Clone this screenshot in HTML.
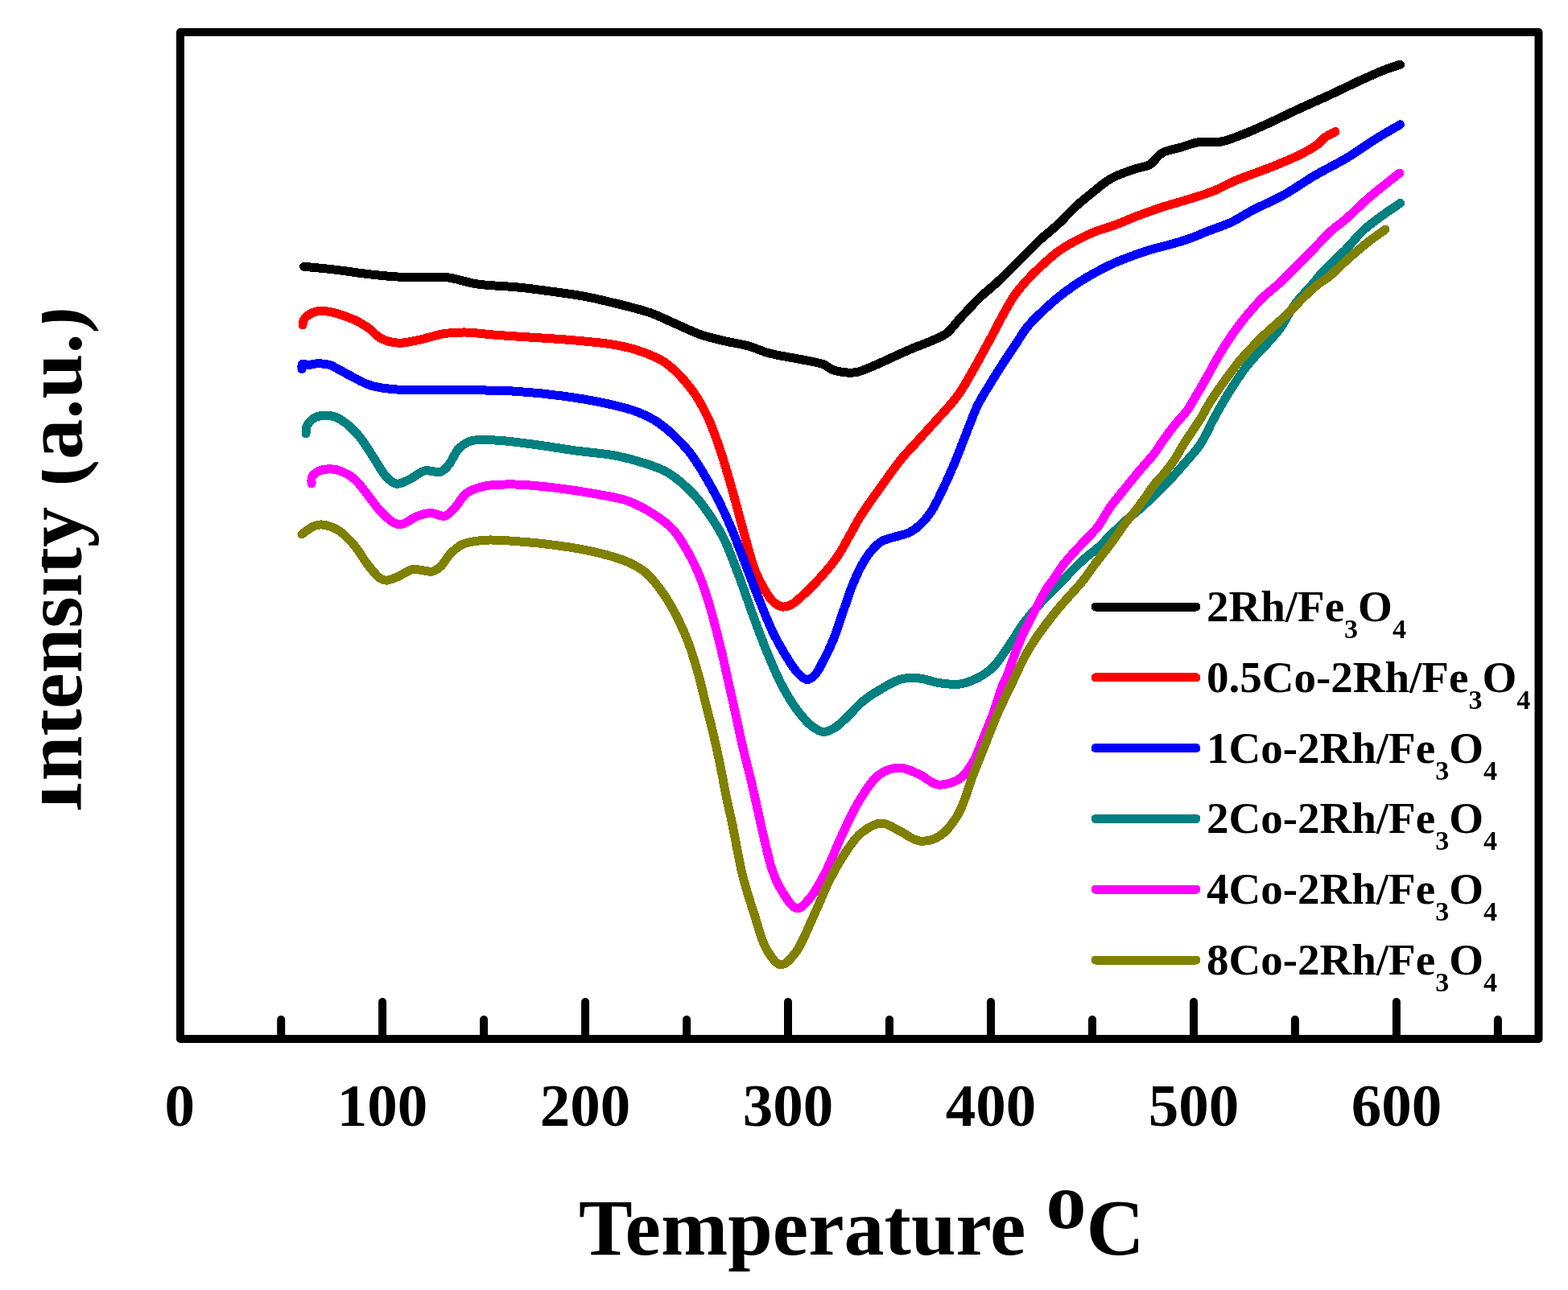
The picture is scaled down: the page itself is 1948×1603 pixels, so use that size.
<!DOCTYPE html>
<html><head><meta charset="utf-8"><style>
html,body{margin:0;padding:0;background:#fff;}
body{width:1948px;height:1603px;overflow:hidden;}
svg{display:block;}
text{font-family:"Liberation Serif",serif;font-weight:bold;fill:#000;}
</style></head><body>
<svg width="1948" height="1603" viewBox="0 0 1948 1603">
<rect x="0" y="0" width="1948" height="1603" fill="#fff"/>
<g fill="none" stroke-width="11" stroke-linecap="round" stroke-linejoin="round" shape-rendering="crispEdges">
<path d="M377.5 331.2C390.0 332.5 402.5 333.5 415.0 335.0C427.5 336.5 440.0 338.5 452.5 340.0C465.0 341.5 478.2 343.0 490.0 343.8C500.5 344.4 509.8 344.5 520.0 344.6C530.7 344.8 545.6 344.1 553.0 344.6C556.8 344.8 557.9 345.0 561.6 345.7C568.7 347.0 580.8 351.1 592.4 352.9C607.3 355.2 627.6 355.4 643.7 357.0C658.2 358.5 671.1 360.2 684.8 362.1C698.5 364.0 712.3 365.7 725.9 368.3C739.6 370.9 753.3 374.1 766.9 377.5C780.6 380.9 795.4 384.4 808.0 388.8C819.2 392.7 828.5 397.7 838.8 402.1C849.1 406.6 859.2 411.9 869.6 415.5C879.6 419.0 889.9 421.3 900.0 423.7C910.0 426.1 920.5 427.4 930.0 430.0C938.8 432.5 945.5 436.2 955.0 438.8C967.1 442.0 985.9 444.8 997.0 447.0C1004.4 448.5 1010.4 449.5 1015.4 450.7C1018.8 451.5 1021.1 451.8 1024.0 453.1C1027.3 454.6 1029.9 457.7 1033.9 459.3C1039.0 461.3 1046.8 462.6 1052.4 463.0C1056.9 463.3 1060.3 463.3 1064.7 462.4C1070.3 461.3 1076.6 458.3 1083.2 455.6C1090.9 452.5 1099.6 448.2 1107.8 444.5C1116.0 440.8 1124.2 436.9 1132.5 433.4C1140.7 429.9 1149.5 427.0 1157.1 423.6C1163.8 420.6 1169.9 418.8 1175.6 414.5C1181.8 409.8 1186.3 402.7 1192.5 396.0C1200.0 387.9 1210.5 376.3 1217.5 369.5C1222.3 364.9 1225.6 362.5 1230.0 358.6C1234.9 354.3 1239.8 350.0 1245.4 344.7C1252.4 338.0 1260.8 329.3 1268.5 321.6C1276.2 313.9 1283.8 305.8 1291.6 298.5C1299.2 291.4 1307.1 285.6 1314.7 278.5C1322.5 271.2 1330.4 262.2 1337.8 255.4C1344.2 249.6 1349.7 245.3 1356.3 240.0C1363.7 234.2 1371.3 226.9 1380.0 222.0C1388.9 216.9 1400.5 213.3 1409.3 210.2C1416.4 207.7 1424.0 207.3 1428.8 204.4C1432.3 202.3 1434.0 199.1 1436.6 196.6C1439.2 194.2 1440.8 191.7 1444.4 189.7C1449.9 186.7 1460.4 185.1 1467.8 182.9C1474.6 180.9 1480.1 178.2 1487.3 177.0C1496.0 175.6 1507.0 177.8 1516.6 176.1C1526.5 174.3 1536.1 170.0 1545.8 166.3C1555.6 162.5 1564.7 158.3 1575.1 153.6C1587.2 148.1 1601.1 141.1 1614.1 135.1C1627.1 129.1 1640.1 123.5 1653.1 117.5C1666.1 111.5 1680.0 104.5 1692.1 99.0C1702.5 94.3 1712.7 89.6 1721.4 86.3C1728.1 83.7 1733.5 82.3 1739.5 80.3" stroke="#000000"/>
<path d="M376.0 404.0C376.5 401.8 376.4 399.5 377.5 397.5C378.7 395.3 380.8 393.1 383.0 391.5C385.3 389.8 388.2 388.3 391.0 387.5C393.8 386.7 396.9 386.5 400.0 386.5C403.2 386.5 406.7 386.9 410.0 387.5C413.4 388.1 416.3 388.9 420.0 390.0C425.0 391.5 432.1 393.9 437.0 396.0C440.9 397.6 443.8 399.0 447.3 401.0C451.3 403.3 455.7 406.0 459.8 409.0C464.1 412.2 467.3 417.2 472.5 420.0C478.6 423.3 487.3 425.8 495.0 426.2C503.1 426.7 511.2 424.2 520.0 422.5C530.2 420.5 542.3 416.0 552.5 414.5C561.3 413.2 568.3 412.9 577.5 413.0C588.7 413.1 601.6 415.2 615.0 416.2C630.5 417.4 648.3 418.4 665.0 419.5C681.7 420.6 698.4 421.5 715.0 423.0C731.7 424.5 750.5 426.1 765.0 428.8C776.3 430.8 785.0 432.7 795.0 436.2C805.7 440.0 816.9 443.8 827.0 451.0C838.7 459.3 851.0 473.0 860.0 485.0C868.3 496.1 874.2 507.7 880.0 520.0C885.9 532.7 890.2 545.8 895.0 560.0C900.3 575.7 905.1 592.9 910.0 610.0C915.1 627.9 920.1 647.7 925.0 665.0C929.4 680.4 933.1 696.3 938.0 708.7C941.9 718.5 946.3 727.0 950.7 734.1C954.2 739.8 957.5 745.1 961.5 748.5C964.8 751.3 968.7 753.6 972.4 754.0C975.9 754.4 979.5 753.1 983.2 751.3C987.9 748.9 992.7 744.0 997.7 739.5C1003.5 734.2 1009.5 728.3 1015.8 721.4C1023.5 713.0 1033.4 701.7 1040.0 692.2C1045.6 684.2 1049.2 676.7 1053.7 668.8C1058.3 660.7 1062.7 651.9 1067.4 644.1C1071.8 636.8 1076.6 630.2 1081.2 623.5C1085.7 617.0 1090.3 610.7 1094.9 604.3C1099.5 597.9 1104.0 591.3 1108.6 585.1C1113.1 579.0 1117.6 572.9 1122.3 567.3C1126.8 562.0 1131.5 557.2 1136.1 552.2C1140.7 547.2 1145.2 542.1 1149.8 537.1C1154.4 532.1 1158.9 527.0 1163.5 522.0C1168.1 517.0 1172.7 512.1 1177.2 506.9C1181.9 501.5 1186.6 496.2 1191.0 490.0C1195.9 483.1 1199.8 476.0 1205.0 467.0C1212.3 454.5 1222.7 435.2 1230.0 421.7C1235.8 410.9 1240.2 401.9 1245.4 392.5C1250.4 383.5 1255.3 374.1 1260.8 366.3C1265.7 359.4 1270.9 353.6 1276.2 347.8C1281.2 342.3 1285.8 337.8 1291.6 332.4C1298.4 326.1 1306.7 318.2 1314.7 312.4C1322.2 307.0 1330.0 302.7 1337.8 298.5C1345.4 294.5 1353.1 290.8 1360.9 287.7C1368.5 284.7 1375.8 283.0 1384.0 280.0C1393.6 276.5 1404.5 271.6 1414.8 267.7C1425.0 263.9 1435.3 260.2 1445.6 256.9C1455.8 253.6 1466.2 250.9 1476.4 247.7C1486.7 244.5 1497.2 241.5 1507.2 237.5C1517.1 233.5 1525.7 228.3 1536.1 223.9C1548.0 218.9 1562.2 214.4 1575.1 209.2C1588.2 204.0 1602.9 198.3 1614.1 192.7C1623.1 188.2 1632.0 183.3 1637.5 179.0C1641.0 176.3 1642.1 173.6 1645.3 171.2C1649.1 168.4 1654.4 166.1 1659.0 163.6" stroke="#ff0000"/>
<path d="M375.0 458.5C375.2 456.5 374.4 453.4 375.5 452.5C376.8 451.5 380.4 453.5 383.0 453.5C385.9 453.5 389.1 452.2 392.0 452.0C394.7 451.8 397.2 451.8 400.0 452.0C403.2 452.2 406.6 452.4 410.0 453.5C414.0 454.8 417.2 457.3 422.5 460.0C431.6 464.7 447.9 474.8 460.0 478.8C470.3 482.1 477.7 482.7 490.0 483.8C509.3 485.4 540.0 484.1 565.0 484.5C590.0 484.9 616.2 484.8 640.0 486.2C661.8 487.6 682.9 489.8 702.5 492.5C720.1 494.9 737.1 497.9 752.5 501.2C766.0 504.2 778.7 507.0 790.0 511.2C800.1 515.1 808.1 518.5 817.5 525.0C829.6 533.4 843.9 546.6 855.0 560.0C866.6 574.0 876.3 592.0 885.0 607.5C892.9 621.6 899.1 634.7 905.4 649.0C911.9 663.6 917.5 679.0 923.5 694.3C929.6 709.8 935.5 726.0 941.6 741.3C947.5 756.1 953.3 771.4 959.7 784.7C965.4 796.5 972.1 808.1 977.8 817.3C982.2 824.3 985.9 830.7 990.4 835.4C994.1 839.3 998.3 844.1 1002.2 844.4C1005.6 844.7 1009.2 841.9 1012.2 839.0C1016.3 835.0 1019.4 827.6 1023.0 820.9C1027.3 812.9 1031.7 803.6 1035.7 793.8C1040.2 782.7 1044.2 769.2 1048.3 757.6C1052.1 746.9 1055.3 736.3 1059.2 726.8C1062.6 718.4 1066.1 710.4 1070.0 703.3C1073.5 697.0 1076.9 691.1 1081.2 686.0C1085.3 681.1 1089.4 676.2 1094.9 672.9C1100.7 669.4 1109.3 668.0 1115.5 666.1C1120.5 664.5 1124.8 664.1 1129.2 662.0C1134.0 659.7 1138.6 656.3 1142.9 652.3C1147.8 647.8 1152.4 642.3 1156.7 635.9C1161.7 628.4 1166.0 618.9 1170.4 609.8C1175.1 600.2 1179.9 589.5 1184.1 579.6C1188.1 570.3 1191.6 561.1 1195.1 552.2C1198.4 543.8 1201.5 535.6 1204.7 527.5C1207.9 519.6 1210.4 512.0 1214.3 504.1C1218.6 495.3 1224.7 485.9 1230.0 477.2C1235.1 468.8 1240.2 460.6 1245.4 452.5C1250.5 444.6 1255.7 437.1 1260.8 429.4C1265.9 421.7 1270.8 413.1 1276.2 406.3C1281.1 400.2 1285.8 395.8 1291.6 390.2C1298.4 383.6 1306.8 375.8 1314.7 369.4C1322.3 363.2 1330.0 357.6 1337.8 352.4C1345.4 347.4 1353.1 342.9 1360.9 338.6C1368.5 334.4 1376.2 330.5 1384.0 327.0C1391.6 323.6 1399.4 320.6 1407.1 317.8C1414.8 315.0 1422.5 312.4 1430.2 310.1C1437.9 307.8 1445.6 306.1 1453.3 303.9C1461.0 301.7 1468.8 299.7 1476.4 297.0C1484.2 294.3 1491.3 290.9 1499.5 287.7C1508.9 284.0 1520.4 280.5 1530.0 276.0C1539.1 271.7 1546.1 266.5 1555.6 261.5C1567.2 255.4 1581.8 249.5 1594.6 242.4C1607.8 235.1 1620.5 225.7 1633.6 218.0C1646.5 210.4 1659.7 204.3 1672.6 196.6C1685.8 188.7 1699.6 178.6 1711.6 171.2C1721.6 165.0 1730.2 160.3 1739.5 154.8" stroke="#0000ff"/>
<path d="M380.0 539.0C380.2 536.3 379.7 533.5 380.5 531.0C381.3 528.5 383.1 526.1 385.0 524.0C386.9 521.9 389.2 519.8 392.0 518.5C395.3 517.0 400.0 516.3 404.0 516.2C408.0 516.1 412.0 516.6 416.0 518.0C420.6 519.6 425.3 522.6 430.0 526.2C435.8 530.7 442.0 537.0 447.5 543.8C453.7 551.4 459.4 561.6 465.0 570.0C470.2 577.8 474.7 587.1 480.0 592.5C484.0 596.6 487.8 600.6 492.5 601.2C497.7 601.9 504.3 597.6 510.0 595.0C516.0 592.3 521.2 586.5 527.5 585.0C533.7 583.5 542.3 588.0 547.5 586.2C551.8 584.8 554.3 581.3 557.5 577.5C561.8 572.4 565.0 562.6 570.0 557.5C574.4 553.1 578.8 549.9 585.0 548.0C593.0 545.5 603.7 546.6 615.0 547.0C629.6 547.6 648.4 550.3 665.0 552.5C681.7 554.7 698.3 557.7 715.0 560.0C731.7 562.3 749.6 563.3 765.0 566.2C778.5 568.9 791.1 572.4 802.5 576.2C812.5 579.6 820.9 582.0 830.0 587.5C840.9 594.1 853.1 605.1 862.5 615.0C871.3 624.3 878.5 635.2 885.0 645.0C890.8 653.8 895.1 660.8 900.0 670.8C906.2 683.6 912.2 700.5 918.1 716.0C924.3 732.3 930.1 750.1 936.2 766.6C942.1 782.6 948.0 798.7 954.3 813.7C960.1 827.6 966.0 841.5 972.4 853.5C978.1 864.1 984.0 873.9 990.4 882.4C996.1 889.9 1002.4 897.7 1008.5 902.3C1013.3 905.9 1018.1 909.2 1023.0 909.5C1027.8 909.7 1032.8 906.9 1037.5 904.1C1043.1 900.7 1048.3 894.8 1053.8 889.6C1059.8 884.0 1065.4 876.9 1071.9 871.5C1078.3 866.2 1085.0 861.9 1092.5 857.5C1100.9 852.6 1111.0 846.0 1120.0 843.8C1127.7 841.8 1134.9 842.3 1142.5 843.0C1150.7 843.8 1159.1 847.6 1167.5 848.8C1175.8 849.9 1184.5 851.1 1192.5 850.0C1200.3 848.9 1208.0 845.8 1214.9 842.3C1221.7 838.8 1227.6 835.1 1233.6 829.2C1241.1 821.8 1248.6 809.2 1255.0 800.0C1260.6 792.0 1264.8 784.2 1270.0 777.0C1274.9 770.2 1279.9 764.0 1285.0 758.0C1289.9 752.3 1295.0 747.2 1300.0 742.0C1305.0 736.9 1309.7 732.5 1315.0 727.0C1321.2 720.6 1328.7 712.2 1335.0 706.0C1340.3 700.8 1345.0 696.3 1350.0 692.0C1354.6 688.0 1359.1 685.1 1363.7 681.0C1368.7 676.5 1373.4 671.2 1378.7 666.0C1384.6 660.2 1391.1 653.7 1397.4 648.0C1403.6 642.5 1410.0 637.8 1416.2 632.3C1422.5 626.7 1428.7 620.9 1434.9 614.9C1441.2 608.8 1447.5 602.6 1453.6 596.1C1460.0 589.3 1466.2 582.1 1472.4 574.9C1478.7 567.6 1485.2 561.1 1491.1 552.4C1498.0 542.0 1503.6 528.0 1510.3 516.0C1517.1 503.9 1524.3 491.2 1531.6 480.0C1538.3 469.7 1545.1 459.6 1552.1 451.0C1558.4 443.3 1565.1 437.2 1571.3 430.3C1577.4 423.5 1583.3 417.6 1589.2 409.7C1596.2 400.3 1602.4 386.7 1609.7 377.0C1616.2 368.2 1624.2 360.7 1630.3 353.5C1635.4 347.6 1638.4 343.0 1644.0 337.0C1651.6 328.8 1663.5 318.5 1672.3 309.5C1680.3 301.3 1686.8 292.5 1694.8 285.2C1702.5 278.2 1711.3 272.2 1719.1 266.5C1726.2 261.4 1732.8 257.1 1739.7 252.4" stroke="#008080"/>
<path d="M387.0 601.0C387.2 598.3 386.5 595.3 387.5 593.0C388.5 590.7 390.9 588.5 393.0 587.0C395.1 585.5 397.2 584.7 400.0 584.0C403.6 583.1 408.8 582.6 413.0 583.0C417.1 583.3 420.9 584.3 425.0 586.0C429.9 588.0 435.3 591.0 440.0 595.0C445.4 599.6 449.9 606.2 455.0 612.5C460.7 619.5 466.3 628.5 472.5 635.0C478.1 640.8 484.6 647.6 490.0 650.0C493.5 651.6 496.3 651.9 500.0 651.2C505.1 650.3 511.1 644.3 517.0 642.0C522.8 639.7 529.0 637.6 535.0 637.5C540.9 637.4 547.4 642.5 552.5 641.2C557.3 640.1 560.9 635.2 565.0 631.0C570.0 625.9 573.8 617.0 580.0 612.5C586.3 608.0 593.9 605.8 602.5 604.0C613.3 601.7 626.6 601.8 640.0 602.0C655.5 602.2 673.4 604.3 690.0 606.2C706.7 608.2 724.3 610.9 740.0 613.8C754.1 616.4 767.5 618.0 780.0 622.5C792.0 626.8 803.9 633.6 813.7 640.0C822.2 645.6 829.5 650.8 836.1 658.0C843.1 665.6 848.8 675.8 854.1 684.9C859.2 693.7 863.5 702.4 867.5 711.8C871.7 721.7 875.4 732.7 878.8 743.2C882.1 753.6 884.8 763.8 887.7 774.7C890.8 786.3 893.8 798.3 896.7 810.6C899.8 823.6 902.7 837.5 905.7 851.0C908.7 864.5 911.7 877.9 914.7 891.4C917.7 904.9 920.5 918.8 923.6 931.8C926.5 944.1 929.7 955.6 932.6 967.7C935.5 980.0 938.2 992.3 941.0 1005.0C943.9 1018.1 946.9 1032.1 950.0 1045.0C952.9 1057.1 955.3 1069.4 959.0 1080.0C962.2 1089.2 965.1 1097.1 970.0 1105.0C975.2 1113.4 983.5 1128.0 990.0 1128.8C995.1 1129.3 1000.1 1122.8 1005.0 1117.5C1011.9 1109.9 1018.7 1096.9 1025.0 1085.0C1032.1 1071.4 1038.0 1054.9 1045.0 1040.0C1052.1 1024.9 1059.1 1008.4 1067.5 995.0C1075.1 982.9 1083.0 969.3 1092.5 962.5C1100.1 957.1 1109.2 954.0 1117.5 954.0C1125.8 954.0 1134.5 959.0 1142.5 962.5C1150.4 966.0 1156.9 974.0 1165.0 975.0C1173.5 976.0 1185.0 972.5 1192.5 967.5C1200.0 962.5 1205.5 952.6 1210.0 945.0C1213.9 938.3 1215.4 932.4 1218.6 924.6C1222.9 914.0 1229.1 899.4 1233.6 887.2C1237.8 875.7 1241.4 862.1 1244.8 853.5C1247.0 847.9 1248.9 845.2 1251.0 840.0C1253.9 833.0 1256.8 823.3 1260.0 815.0C1263.2 806.6 1266.5 797.8 1270.0 790.0C1273.2 782.9 1276.7 776.7 1280.0 770.0C1283.3 763.3 1286.6 756.5 1290.0 750.0C1293.3 743.8 1296.5 737.5 1300.0 732.0C1303.2 726.9 1306.7 722.8 1310.0 718.0C1313.4 713.1 1316.5 707.6 1320.0 703.0C1323.2 698.7 1326.6 694.9 1330.0 691.0C1333.3 687.2 1336.5 683.8 1340.0 680.0C1343.8 675.9 1348.0 671.7 1352.0 667.5C1355.9 663.3 1359.8 659.9 1363.7 654.8C1368.7 648.3 1373.2 638.8 1378.7 631.0C1384.4 622.9 1392.1 613.9 1397.4 607.3C1401.2 602.5 1403.9 599.2 1407.4 594.9C1411.3 590.1 1415.5 585.1 1419.9 579.9C1424.7 574.3 1430.6 568.1 1434.9 562.4C1438.7 557.3 1441.1 552.7 1444.9 547.4C1449.3 541.2 1454.8 533.8 1459.9 527.5C1464.8 521.4 1470.3 516.2 1474.8 510.0C1479.3 503.7 1482.9 496.9 1487.0 490.0C1491.3 482.7 1495.6 475.1 1500.0 467.4C1504.5 459.4 1509.0 450.6 1513.7 442.7C1518.2 435.1 1522.7 427.8 1527.4 420.8C1531.9 414.1 1536.5 407.6 1541.2 401.5C1545.7 395.7 1550.3 390.3 1554.9 385.0C1559.4 379.8 1563.4 375.1 1568.6 370.0C1574.6 364.1 1582.4 358.4 1589.2 352.1C1596.2 345.6 1602.9 338.4 1609.8 331.6C1616.7 324.7 1623.4 318.2 1630.4 311.0C1637.9 303.3 1646.1 293.9 1653.6 287.0C1660.0 281.2 1665.5 277.8 1672.3 272.0C1680.8 264.6 1690.1 254.8 1700.4 245.9C1712.0 235.8 1725.9 225.3 1738.7 215.0" stroke="#ff00ff"/>
<path d="M375.0 663.8C380.0 660.4 385.3 655.6 390.0 653.8C393.5 652.3 396.1 651.7 400.0 652.0C405.6 652.4 413.7 655.0 420.0 658.8C427.2 663.0 433.9 670.4 440.0 677.5C446.4 684.9 451.6 695.2 457.5 702.5C462.5 708.7 468.0 715.9 472.5 718.8C475.2 720.5 477.1 721.2 480.0 721.2C484.1 721.2 489.9 718.4 495.0 716.2C500.7 713.9 507.0 708.5 512.5 707.5C516.9 706.7 520.8 708.3 525.0 708.8C529.2 709.2 533.7 710.9 537.5 710.0C541.2 709.1 544.2 706.7 547.5 703.8C551.8 699.9 555.3 692.2 560.0 687.5C564.5 683.1 568.9 678.9 575.0 676.2C582.5 673.0 592.6 672.0 602.5 671.2C614.0 670.4 626.6 671.6 640.0 672.5C655.5 673.5 673.4 675.2 690.0 677.5C706.7 679.8 724.4 682.5 740.0 686.2C754.2 689.6 768.8 693.5 780.0 698.4C788.8 702.3 795.4 705.8 802.4 711.8C810.5 718.7 818.2 729.1 824.9 738.8C831.7 748.6 837.5 759.6 842.8 770.2C847.9 780.5 852.3 790.7 856.3 801.6C860.5 813.1 864.1 825.5 867.5 837.5C870.9 849.4 873.5 861.4 876.5 873.4C879.5 885.4 882.6 897.0 885.5 909.3C888.6 922.3 891.7 936.2 894.5 949.7C897.3 963.1 899.6 977.1 902.3 990.1C904.8 1002.2 907.2 1011.7 910.0 1025.0C913.7 1042.8 917.6 1067.9 922.5 1087.5C926.9 1105.2 932.3 1121.6 937.5 1137.5C942.3 1152.3 945.9 1169.2 952.5 1180.0C957.4 1188.2 963.9 1198.3 970.0 1198.8C975.6 1199.2 982.0 1191.7 987.5 1185.0C995.8 1174.9 1002.9 1155.1 1010.0 1140.0C1017.0 1125.1 1023.0 1108.9 1030.0 1095.0C1036.4 1082.4 1042.9 1070.4 1050.0 1060.0C1056.3 1050.7 1062.1 1041.2 1070.0 1035.0C1077.3 1029.2 1086.8 1023.2 1095.0 1023.0C1102.7 1022.8 1109.9 1029.0 1117.5 1032.5C1125.7 1036.3 1134.0 1044.1 1142.5 1045.0C1150.7 1045.9 1160.0 1043.4 1167.5 1038.8C1176.2 1033.4 1183.5 1023.3 1190.0 1012.5C1198.1 999.0 1203.2 977.6 1209.3 962.1C1214.5 948.7 1219.2 937.1 1224.2 924.6C1229.2 912.1 1233.5 900.3 1239.2 887.2C1245.7 872.3 1255.3 853.1 1261.5 840.0C1265.9 830.7 1268.9 823.5 1273.0 816.0C1276.8 808.9 1280.6 802.7 1285.0 796.0C1289.6 789.0 1294.9 781.8 1300.0 775.0C1304.9 768.4 1309.9 762.1 1315.0 756.0C1319.9 750.1 1325.0 744.7 1330.0 739.0C1335.0 733.3 1340.1 728.2 1345.0 722.0C1350.4 715.3 1355.4 707.4 1361.0 700.0C1366.8 692.4 1373.1 685.0 1379.0 677.0C1385.2 668.7 1391.5 658.9 1397.4 651.0C1402.5 644.2 1407.7 638.5 1412.4 632.3C1416.8 626.5 1421.0 620.5 1424.9 615.0C1428.4 610.1 1431.2 605.6 1434.9 601.0C1438.7 596.2 1443.3 592.0 1447.4 587.0C1451.7 581.7 1456.1 575.8 1459.9 570.0C1463.6 564.4 1466.5 558.4 1469.9 553.0C1473.1 547.8 1476.3 543.3 1479.8 538.0C1483.7 532.0 1488.7 524.9 1492.3 519.0C1495.3 514.0 1497.0 510.1 1500.0 505.0C1503.8 498.6 1509.1 490.8 1513.7 484.0C1518.2 477.5 1522.8 471.2 1527.4 465.0C1531.9 458.9 1536.5 452.6 1541.2 447.0C1545.7 441.7 1550.3 436.9 1554.9 432.0C1559.4 427.2 1564.0 422.5 1568.6 418.0C1573.1 413.7 1577.7 409.7 1582.3 405.6C1586.9 401.5 1591.5 397.6 1596.0 393.3C1600.6 388.9 1605.1 384.2 1609.7 379.6C1614.3 375.0 1618.8 370.2 1623.5 365.8C1628.0 361.5 1632.5 357.2 1637.2 353.5C1641.7 350.0 1645.8 348.0 1650.9 343.9C1658.2 338.0 1667.6 328.1 1676.0 320.7C1684.1 313.6 1692.5 306.4 1700.4 300.2C1707.5 294.7 1714.1 290.2 1721.0 285.2" stroke="#808000"/>
</g>
<g stroke="#000" stroke-width="10" stroke-linecap="round">
<line x1="349.2" y1="1291.0" x2="349.2" y2="1267.0"/>
<line x1="475.1" y1="1291.0" x2="475.1" y2="1245.0"/>
<line x1="601.1" y1="1291.0" x2="601.1" y2="1267.0"/>
<line x1="727.1" y1="1291.0" x2="727.1" y2="1245.0"/>
<line x1="853.1" y1="1291.0" x2="853.1" y2="1267.0"/>
<line x1="979.0" y1="1291.0" x2="979.0" y2="1245.0"/>
<line x1="1105.0" y1="1291.0" x2="1105.0" y2="1267.0"/>
<line x1="1231.0" y1="1291.0" x2="1231.0" y2="1245.0"/>
<line x1="1357.0" y1="1291.0" x2="1357.0" y2="1267.0"/>
<line x1="1483.0" y1="1291.0" x2="1483.0" y2="1245.0"/>
<line x1="1608.9" y1="1291.0" x2="1608.9" y2="1267.0"/>
<line x1="1734.9" y1="1291.0" x2="1734.9" y2="1245.0"/>
<line x1="1860.9" y1="1291.0" x2="1860.9" y2="1267.0"/>
</g>
<rect x="224.0" y="40.0" width="1687.5" height="1251.0" fill="none" stroke="#000" stroke-width="10" stroke-linejoin="round"/>
<g stroke-width="11" stroke-linecap="round" shape-rendering="crispEdges">
<line x1="1361.0" y1="754.0" x2="1486.0" y2="754.0" stroke="#000000"/>
<line x1="1361.0" y1="841.8" x2="1486.0" y2="841.8" stroke="#ff0000"/>
<line x1="1361.0" y1="929.6" x2="1486.0" y2="929.6" stroke="#0000ff"/>
<line x1="1361.0" y1="1017.4" x2="1486.0" y2="1017.4" stroke="#008080"/>
<line x1="1361.0" y1="1105.2" x2="1486.0" y2="1105.2" stroke="#ff00ff"/>
<line x1="1361.0" y1="1193.0" x2="1486.0" y2="1193.0" stroke="#808000"/>
</g>
<g font-size="75px">
<text x="223.2" y="1399.0" text-anchor="middle">0</text>
<text x="475.1" y="1399.0" text-anchor="middle">100</text>
<text x="727.1" y="1399.0" text-anchor="middle">200</text>
<text x="979.0" y="1399.0" text-anchor="middle">300</text>
<text x="1231.0" y="1399.0" text-anchor="middle">400</text>
<text x="1483.0" y="1399.0" text-anchor="middle">500</text>
<text x="1734.9" y="1399.0" text-anchor="middle">600</text>
</g>
<text x="1499.0" y="772.0" font-size="55">2Rh/Fe<tspan font-size="34" dy="21">3</tspan><tspan dy="-21">O</tspan><tspan font-size="34" dy="21">4</tspan></text>
<text x="1499.0" y="859.8" font-size="55">0.5Co-2Rh/Fe<tspan font-size="34" dy="21">3</tspan><tspan dy="-21">O</tspan><tspan font-size="34" dy="21">4</tspan></text>
<text x="1499.0" y="947.6" font-size="55">1Co-2Rh/Fe<tspan font-size="34" dy="21">3</tspan><tspan dy="-21">O</tspan><tspan font-size="34" dy="21">4</tspan></text>
<text x="1499.0" y="1035.4" font-size="55">2Co-2Rh/Fe<tspan font-size="34" dy="21">3</tspan><tspan dy="-21">O</tspan><tspan font-size="34" dy="21">4</tspan></text>
<text x="1499.0" y="1123.2" font-size="55">4Co-2Rh/Fe<tspan font-size="34" dy="21">3</tspan><tspan dy="-21">O</tspan><tspan font-size="34" dy="21">4</tspan></text>
<text x="1499.0" y="1211.0" font-size="55">8Co-2Rh/Fe<tspan font-size="34" dy="21">3</tspan><tspan dy="-21">O</tspan><tspan font-size="34" dy="21">4</tspan></text>

<text x="719" y="1559" font-size="100">Temperature <tspan dy="-33">o</tspan><tspan dy="33">C</tspan></text>
<clipPath id="yc"><rect x="52" y="0" width="200" height="1603"/></clipPath>
<g clip-path="url(#yc)"><text transform="translate(101,1009.7) rotate(-90)" font-size="100.6">Intensity (a.u.)</text></g>

</svg>
</body></html>
